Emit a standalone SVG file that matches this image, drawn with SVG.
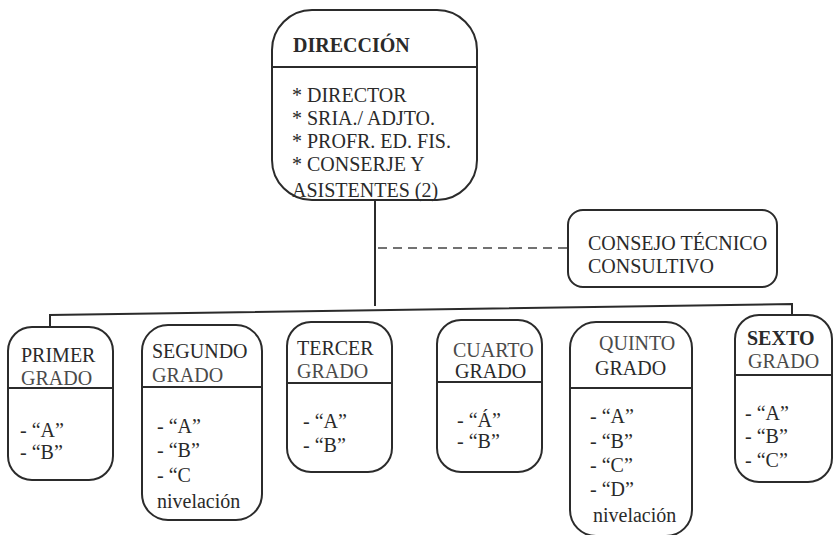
<svg xmlns="http://www.w3.org/2000/svg" width="834" height="535" viewBox="0 0 834 535" font-family="Liberation Serif, Times New Roman, Times, Noto Serif, DejaVu Serif, FreeSerif, serif">
  <style>
    .box { fill: #fff; stroke: #2b2b2b; stroke-width: 2; }
    .div { stroke: #2b2b2b; stroke-width: 1.8; }
    .wire { fill: none; stroke: #2b2b2b; stroke-width: 2; }
    .dash { fill: none; stroke: #444; stroke-width: 1.5; stroke-dasharray: 9 6; }
    text { font-size: 20px; fill: #2a2a2a; }
    .b { font-weight: bold; }
    .lt { fill: #4a4a4a; }
  </style>
  <rect width="834" height="535" fill="#fff"/>

  <g id="connectors">
    <line class="wire" x1="375" y1="200" x2="375" y2="306"/>
    <polyline class="wire" points="50,326 50,315 792,304 792,316"/>
    <line class="dash" x1="378" y1="248" x2="567" y2="248"/>
  </g>

  <g id="direccion">
    <rect class="box" x="272" y="10" width="205" height="190" rx="40"/>
    <line class="div" x1="272" y1="67" x2="477" y2="67"/>
    <text class="b" x="293" y="52">DIRECCIÓN</text>
    <text x="292" y="102">* DIRECTOR</text>
    <text x="292" y="125">* SRIA./ ADJTO.</text>
    <text x="292" y="148">* PROFR. ED. FIS.</text>
    <text x="292" y="171">* CONSERJE Y</text>
    <text x="292" y="197">ASISTENTES (2)</text>
  </g>

  <g id="consejo">
    <rect class="box" x="568" y="210" width="209" height="77" rx="15"/>
    <text x="588" y="250">CONSEJO TÉCNICO</text>
    <text x="588" y="273">CONSULTIVO</text>
  </g>

  <g id="primer">
    <rect class="box" x="8" y="327" width="105" height="153" rx="24"/>
    <line class="div" x1="8" y1="388" x2="113" y2="388"/>
    <text x="21" y="362">PRIMER</text>
    <text class="lt" x="21" y="385">GRADO</text>
    <text x="20" y="437">- “A”</text>
    <text x="20" y="459">- “B”</text>
  </g>

  <g id="segundo">
    <rect class="box" x="142" y="325" width="120" height="195" rx="26"/>
    <line class="div" x1="142" y1="387" x2="262" y2="387"/>
    <text x="152" y="358">SEGUNDO</text>
    <text class="lt" x="152" y="382">GRADO</text>
    <text x="157" y="433">- “A”</text>
    <text x="157" y="457">- “B”</text>
    <text x="157" y="482">- “C</text>
    <text x="157" y="508">nivelación</text>
  </g>

  <g id="tercer">
    <rect class="box" x="287" y="322" width="105" height="150" rx="24"/>
    <line class="div" x1="287" y1="383" x2="392" y2="383"/>
    <text x="297" y="355">TERCER</text>
    <text class="lt" x="297" y="378">GRADO</text>
    <text x="303" y="428">- “A”</text>
    <text x="303" y="452">- “B”</text>
  </g>

  <g id="cuarto">
    <rect class="box" x="437" y="320" width="105" height="152" rx="24"/>
    <line class="div" x1="437" y1="382" x2="542" y2="382"/>
    <text class="lt" x="453" y="357">CUARTO</text>
    <text x="455" y="378">GRADO</text>
    <text x="457" y="427">- “Á”</text>
    <text x="457" y="448">- “B”</text>
  </g>

  <g id="quinto">
    <rect class="box" x="570" y="322" width="122" height="214" rx="26"/>
    <line class="div" x1="570" y1="388" x2="692" y2="388"/>
    <text class="lt" x="599" y="350">QUINTO</text>
    <text x="595" y="375">GRADO</text>
    <text x="590" y="423">- “A”</text>
    <text x="590" y="448">- “B”</text>
    <text x="590" y="472">- “C”</text>
    <text x="590" y="496">- “D”</text>
    <text x="593" y="522">nivelación</text>
  </g>

  <g id="sexto">
    <rect class="box" x="735" y="315" width="97" height="167" rx="24"/>
    <line class="div" x1="735" y1="375" x2="832" y2="375"/>
    <text class="b" x="747" y="345">SEXTO</text>
    <text class="lt" x="748" y="368">GRADO</text>
    <text x="745" y="420">- “A”</text>
    <text x="745" y="443">- “B”</text>
    <text x="745" y="467">- “C”</text>
  </g>
</svg>
